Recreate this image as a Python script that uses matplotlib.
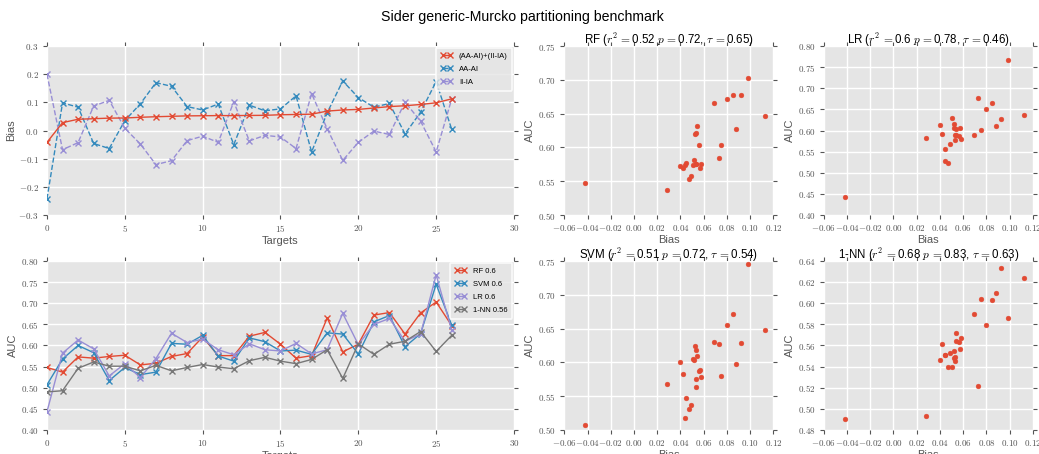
import matplotlib
matplotlib.use('Agg')
import matplotlib.pyplot as plt
from matplotlib.ticker import FuncFormatter, MultipleLocator

targets = list(range(27))

# combined bias (AA-AI)+(II-IA) per target
bias = [-0.042, 0.028, 0.040, 0.042, 0.044, 0.0445, 0.047, 0.049, 0.0505, 0.052,
        0.0525, 0.053, 0.053, 0.0535, 0.054, 0.056, 0.057, 0.058, 0.069, 0.073,
        0.075, 0.080, 0.085, 0.088, 0.0925, 0.0985, 0.1125]
aa_ai = [-0.243, 0.098, 0.083, -0.046, -0.064, 0.035, 0.095, 0.170, 0.157, 0.085,
         0.073, 0.094, -0.050, 0.090, 0.070, 0.077, 0.123, -0.076, 0.063, 0.176,
         0.117, 0.083, 0.096, -0.012, 0.065, 0.174, 0.004]
ii_ia = [0.200, -0.068, -0.043, 0.087, 0.107, 0.008, -0.048, -0.121, -0.107, -0.036,
         -0.020, -0.042, 0.102, -0.037, -0.017, -0.023, -0.064, 0.131, 0.006, -0.106,
         -0.042, -0.002, -0.014, 0.101, 0.033, -0.076, 0.112]

auc_rf = [0.548, 0.537, 0.573, 0.570, 0.574, 0.577, 0.554, 0.558, 0.574, 0.581,
          0.620, 0.576, 0.576, 0.622, 0.631, 0.603, 0.570, 0.576, 0.665, 0.585,
          0.603, 0.672, 0.678, 0.627, 0.677, 0.703, 0.647]
auc_svm = [0.507, 0.568, 0.600, 0.583, 0.517, 0.548, 0.531, 0.537, 0.605, 0.603,
           0.624, 0.575, 0.563, 0.618, 0.609, 0.587, 0.589, 0.579, 0.630, 0.627,
           0.580, 0.656, 0.671, 0.597, 0.628, 0.745, 0.648]
auc_lr = [0.443, 0.582, 0.613, 0.592, 0.528, 0.557, 0.524, 0.569, 0.629, 0.607,
          0.615, 0.590, 0.578, 0.604, 0.590, 0.587, 0.605, 0.580, 0.590, 0.676,
          0.602, 0.650, 0.664, 0.610, 0.627, 0.767, 0.636]
auc_nn = [0.490, 0.493, 0.546, 0.561, 0.551, 0.551, 0.540, 0.553, 0.540, 0.548,
          0.555, 0.549, 0.545, 0.564, 0.572, 0.563, 0.557, 0.567, 0.590, 0.522,
          0.604, 0.579, 0.603, 0.610, 0.633, 0.586, 0.624]

models = ['RF', 'SVM', 'LR', '1-NN']
model_auc = [auc_rf, auc_svm, auc_lr, auc_nn]
model_mean = ['0.6', '0.6', '0.6', '0.56']
model_stats = [('0.52', '0.72', '0.65'), ('0.51', '0.72', '0.54'),
               ('0.6', '0.78', '0.46'), ('0.68', '0.83', '0.63')]

plt.style.use('ggplot')
plt.rcParams['font.family'] = ['Liberation Sans', 'DejaVu Sans']
plt.rcParams['mathtext.fontset'] = 'cm'

RED, BLUE, PURPLE, GREY = '#E24A33', '#348ABD', '#988ED5', '#777777'


def fmt(decimals):
    return FuncFormatter(lambda v, pos: '$%.*f$' % (decimals, v) if decimals else '$%d$' % round(v))


def style_ax(ax):
    ax.set_facecolor('#E5E5E5')
    for s in ax.spines.values():
        s.set_visible(False)
    ax.grid(True, color='white', linewidth=1)
    ax.set_axisbelow(True)
    ax.tick_params(direction='out', length=3, width=0.8, color='#555555',
                   labelsize=6.5, labelcolor='#555555', top=True, right=True, pad=3)


def add_legend(ax):
    leg = ax.legend(loc='upper right', fontsize=5.5, numpoints=2, frameon=True,
                    handlelength=1.6, borderpad=0.6, labelspacing=0.75,
                    borderaxespad=0.25)
    leg.get_frame().set_facecolor('#E5E5E5')
    leg.get_frame().set_edgecolor('white')
    leg.get_frame().set_linewidth(1.2)


fig = plt.figure(figsize=(10.39, 4.54), dpi=100)
fig.patch.set_facecolor('white')
fig.suptitle('Sider generic-Murcko partitioning benchmark', fontsize=10.2, x=0.503, y=0.977)

# bias per target
ax = fig.add_axes([0.0452, 0.5264, 0.4495, 0.3722])
style_ax(ax)
ax.plot(targets, bias, '-', marker='x', color=RED, lw=1, ms=5, mew=1,
        label='(AA-AI)+(II-IA)', zorder=3)
ax.plot(targets, aa_ai, '--', marker='x', color=BLUE, lw=1, ms=5, mew=1, label='AA-AI')
ax.plot(targets, ii_ia, '--', marker='x', color=PURPLE, lw=1, ms=5, mew=1, label='II-IA')
ax.set_xlim(0, 30)
ax.set_ylim(-0.3, 0.3)
ax.xaxis.set_major_locator(MultipleLocator(5))
ax.yaxis.set_major_locator(MultipleLocator(0.1))
ax.xaxis.set_major_formatter(fmt(0))
ax.yaxis.set_major_formatter(fmt(1))
ax.set_xlabel('Targets', fontsize=8, color='#555555', labelpad=1)
ax.set_ylabel('Bias', fontsize=8, color='#555555', labelpad=2)
add_legend(ax)

# AUC per target
ax = fig.add_axes([0.0452, 0.0529, 0.4495, 0.3722])
style_ax(ax)
for name, auc, m, c in zip(models, model_auc, model_mean, [RED, BLUE, PURPLE, GREY]):
    ax.plot(targets, auc, '-', marker='x', color=c, lw=1, ms=5, mew=1, label='%s %s' % (name, m))
ax.set_xlim(0, 30)
ax.set_ylim(0.4, 0.8)
ax.xaxis.set_major_locator(MultipleLocator(5))
ax.yaxis.set_major_locator(MultipleLocator(0.05))
ax.xaxis.set_major_formatter(fmt(0))
ax.yaxis.set_major_formatter(fmt(2))
ax.set_xlabel('Targets', fontsize=8, color='#555555', labelpad=1)
ax.set_ylabel('AUC', fontsize=8, color='#555555', labelpad=2)
add_legend(ax)

# bias vs AUC scatter, one per model
positions = {'RF': [0.5431, 0.5264], 'LR': [0.7928, 0.5264],
             'SVM': [0.5431, 0.0529], '1-NN': [0.7928, 0.0529]}
ylims = {'RF': (0.5, 0.75, 0.05), 'LR': (0.4, 0.8, 0.05),
         'SVM': (0.5, 0.75, 0.05), '1-NN': (0.48, 0.64, 0.02)}
for name, auc, st in zip(models, model_auc, model_stats):
    left, bottom = positions[name]
    ax = fig.add_axes([left, bottom, 0.2013, 0.3722])
    style_ax(ax)
    ax.scatter(bias, auc, s=12, color=RED, edgecolors=RED, linewidths=0.3, zorder=3)
    ax.set_xlim(-0.06, 0.12)
    lo, hi, step = ylims[name]
    ax.set_ylim(lo, hi)
    ax.xaxis.set_major_locator(MultipleLocator(0.02))
    ax.yaxis.set_major_locator(MultipleLocator(step))
    ax.xaxis.set_major_formatter(fmt(2))
    ax.yaxis.set_major_formatter(fmt(2))
    ax.set_xlabel('Bias', fontsize=8, color='#555555', labelpad=1)
    ax.set_ylabel('AUC', fontsize=8, color='#555555', labelpad=2)
    ax.set_title(r'%s ($r^2\,{=}$%s $p\,{=}$%s, $\tau\,{=}$%s)' % (name, st[0], st[1], st[2]),
                 fontsize=8.3, pad=2)

fig.savefig('out.png', dpi=100)
